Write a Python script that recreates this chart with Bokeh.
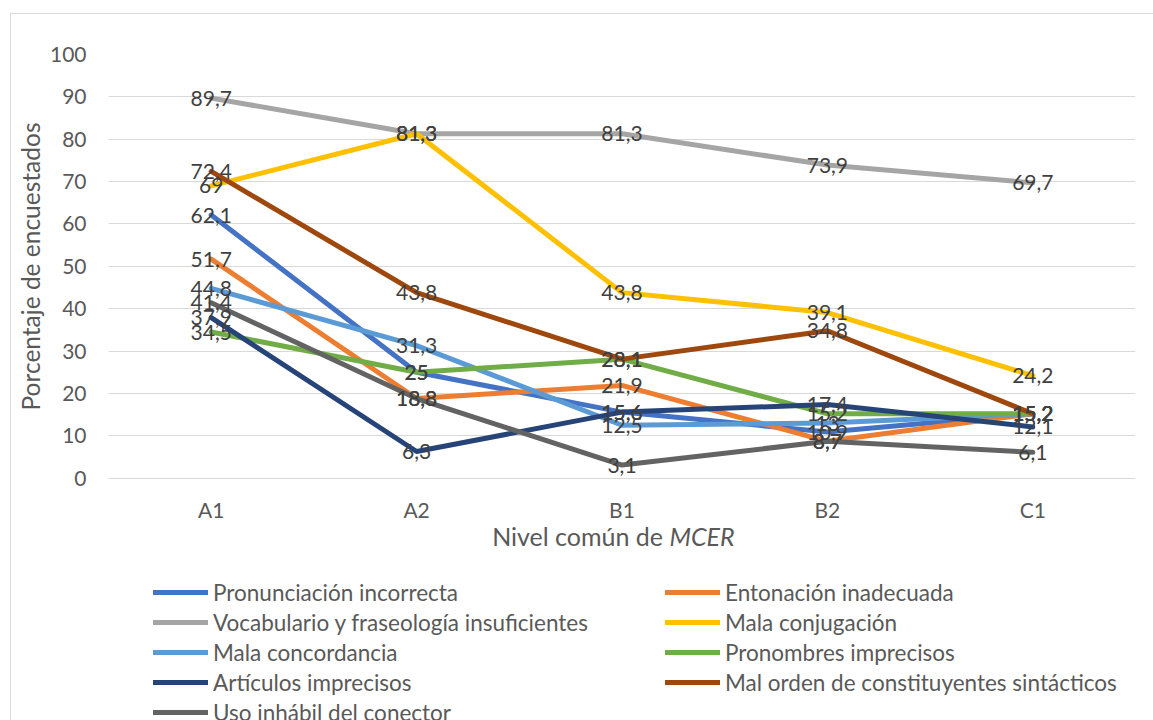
from bokeh.plotting import figure
from bokeh.models import (FactorRange, Range1d, FixedTicker, Legend, LegendItem,
                          Label, Title, ColumnDataSource, InlineStyleSheet)
from bokeh.core.properties import value
from bokeh.embed import file_html
from bokeh.resources import INLINE

# MCER levels on the horizontal axis
niveles = ["A1", "A2", "B1", "B2", "C1"]

# Percentage of respondents per error type and level
pronunciacion = [62.1, 25.0, 15.6, 10.9, 15.2]
entonacion = [51.7, 18.8, 21.9, 8.7, 15.2]
vocabulario = [89.7, 81.3, 81.3, 73.9, 69.7]
conjugacion = [69.0, 81.3, 43.8, 39.1, 24.2]
concordancia = [44.8, 31.3, 12.5, 13.0, 15.2]
pronombres = [34.5, 25.0, 28.1, 15.2, 15.2]
articulos = [37.9, 6.3, 15.6, 17.4, 12.1]
orden = [72.4, 43.8, 28.1, 34.8, 15.2]
conector = [41.4, 18.8, 3.1, 8.7, 6.1]

nombres = [
    "Pronunciación incorrecta",
    "Entonación inadecuada",
    "Vocabulario y fraseología insuficientes",
    "Mala conjugación",
    "Mala concordancia",
    "Pronombres imprecisos",
    "Artículos imprecisos",
    "Mal orden de constituyentes sintácticos",
    "Uso inhábil del conector",
]
valores = [pronunciacion, entonacion, vocabulario, conjugacion, concordancia,
           pronombres, articulos, orden, conector]
colores = ["#4472C4", "#ED7D31", "#A5A5A5", "#FFC000", "#5B9BD5",
           "#70AD47", "#264478", "#9E480E", "#636363"]

y_ticks = list(range(0, 101, 10))

FONT = "Lato"
FS = "21px"
FS_LEGEND = "22.5px"

# The plot frame reaches the bottom of the canvas so that the legend and the
# horizontal title can sit inside it; the value axis spans 0-100 in the upper part.
p = figure(
    width=1153, height=720,
    x_range=FactorRange(*niveles, range_padding=0),
    y_range=Range1d(-57.19, 100),
    output_backend="svg", toolbar_location=None,
    min_border_left=108, min_border_right=18,
    min_border_top=54, min_border_bottom=0,
)
p.outline_line_color = None
p.background_fill_color = "white"
p.border_fill_color = "white"

# outer chart border
p.stylesheets = [InlineStyleSheet(css="""
:host { position: relative; }
:host::after {
  content: ""; position: absolute; left: 10px; top: 13px;
  width: 1143px; height: 707px; box-sizing: border-box;
  border-left: 1px solid #D9D9D9; border-top: 1px solid #D9D9D9;
  pointer-events: none;
}
""")]

# axes
p.yaxis.ticker = FixedTicker(ticks=y_ticks)
for ax in (p.xaxis[0], p.yaxis[0]):
    ax.axis_line_color = None
    ax.major_tick_line_color = None
    ax.minor_tick_line_color = None
    ax.major_label_text_font = FONT
    ax.major_label_text_font_size = FS
    ax.major_label_text_color = "#595959"
p.xaxis.fixed_location = 0
p.yaxis.bounds = (0, 100)
p.yaxis.major_label_standoff = 16
p.xaxis.major_label_standoff = 13

# vertical title, placed alongside the 0-100 part of the value axis
p.add_layout(Title(text="Porcentaje de encuestados", align="right", offset=68,
                   text_font=FONT, text_font_size="24.5px", text_font_style="normal",
                   text_color="#595959", standoff=4), "left")

p.xgrid.grid_line_color = None
p.ygrid.grid_line_color = "#D9D9D9"
p.ygrid.grid_line_width = 1

renderers = []
for nombre, vals, col in zip(nombres, valores, colores):
    src = ColumnDataSource(dict(x=niveles, y=vals))
    r = p.line("x", "y", source=src, line_color=col, line_width=5,
               line_cap="round", line_join="round")
    renderers.append(r)

# data labels centred on each point
for vals in valores:
    src = ColumnDataSource(dict(
        x=niveles, y=vals,
        t=[f"{v:g}".replace(".", ",") for v in vals]))
    p.text("x", "y", text="t", source=src, text_align="center",
           text_baseline="middle", text_font=value(FONT),
           text_font_size=FS, text_color="#404040")

# horizontal axis title with italic MCER
p.add_layout(Label(x=2.731, y=-13.7, text="Nivel común de ", text_align="right",
                   text_baseline="middle", text_font=FONT, text_font_size="25px",
                   text_color="#595959"))
p.add_layout(Label(x=2.731, y=-13.7, text="MCER", text_align="left",
                   text_baseline="middle", text_font=FONT, text_font_size="25px",
                   text_font_style="italic", text_color="#595959"))

# two-column legend below the lines
def make_legend(idx, loc):
    items = [LegendItem(label=nombres[i], renderers=[renderers[i]]) for i in idx]
    return Legend(items=items, location=loc, orientation="vertical",
                  glyph_width=55, glyph_height=30, label_height=30, spacing=0,
                  label_standoff=5, padding=0, margin=0,
                  border_line_color=None, background_fill_alpha=0,
                  label_text_font=FONT, label_text_font_size=FS_LEGEND,
                  label_text_color="#595959")

p.add_layout(make_legend([0, 2, 4, 6, 8], (45, -7)))
p.add_layout(make_legend([1, 3, 5, 7], (557, 23)))

open("out.html", "w").write(file_html(p, INLINE))
